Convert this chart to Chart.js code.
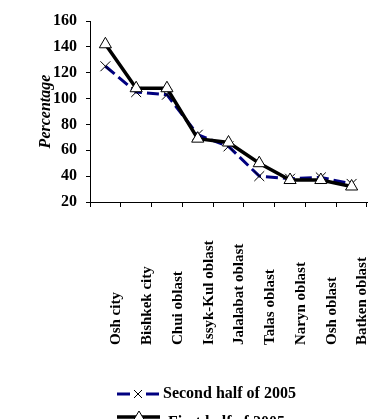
<!DOCTYPE html>
<html>
<head>
<meta charset="utf-8">
<script src="https://cdn.jsdelivr.net/npm/chart.js@4/dist/chart.umd.min.js"></script>
<style>
  html, body { margin: 0; padding: 0; background: #fff; }
  #wrap { width: 375px; height: 419px; position: relative; }
</style>
</head>
<body>
<div id="wrap"><canvas id="myChart" width="375" height="419"></canvas></div>
<script>
// regions on the x axis
const regions = ['Osh city', 'Bishkek city', 'Chui oblast', 'Issyk-Kul oblast', 'Jalalabat oblast',
    'Talas oblast', 'Naryn oblast', 'Osh oblast', 'Batken oblast'];

// series values (percent)
const secondHalf2005 = [125, 105, 103, 72, 63, 40, 38, 39, 34];
const firstHalf2005 = [142, 108, 108, 69, 66, 50, 37, 37, 32];

const seriesNames = ['Second half of 2005', 'First half of 2005.'];
const yTicks = [20, 40, 60, 80, 100, 120, 140, 160];

const serif = "'Liberation Serif', 'Times New Roman', serif";

// rotated category labels, bottom aligned like the original
const xLabelPlugin = {
    id: 'xLabels',
    afterDraw(chart) {
        const ctx = chart.ctx;
        const xs = chart.scales.x;
        ctx.save();
        ctx.fillStyle = '#000';
        ctx.font = 'bold 15px ' + serif;
        ctx.textAlign = 'left';
        ctx.textBaseline = 'middle';
        regions.forEach((name, i) => {
            const x = xs.getPixelForValue(i) + 11;
            ctx.save();
            ctx.translate(x, 345);
            ctx.rotate(-Math.PI / 2);
            ctx.fillText(name, 0, 0);
            ctx.restore();
        });
        ctx.restore();
    }
};

// legend stacked in two rows at the bottom
const legendPlugin = {
    id: 'customLegend',
    afterDraw(chart) {
        const ctx = chart.ctx;
        ctx.save();
        ctx.font = 'bold 16px ' + serif;
        ctx.textBaseline = 'middle';
        ctx.fillStyle = '#000';

        // row 1: dashed navy with x marker
        let y = 394;
        ctx.strokeStyle = '#000080';
        ctx.lineWidth = 3;
        ctx.beginPath();
        ctx.moveTo(117, y); ctx.lineTo(130, y);
        ctx.moveTo(146, y); ctx.lineTo(159, y);
        ctx.stroke();
        ctx.strokeStyle = '#000';
        ctx.lineWidth = 1;
        ctx.beginPath();
        ctx.moveTo(134, y - 4); ctx.lineTo(142, y + 4);
        ctx.moveTo(134, y + 4); ctx.lineTo(142, y - 4);
        ctx.stroke();
        ctx.fillText(seriesNames[0], 163, y);

        // row 2: solid black with triangle
        y = 417;
        ctx.strokeStyle = '#000';
        ctx.lineWidth = 3.5;
        ctx.beginPath();
        ctx.moveTo(117, y); ctx.lineTo(160, y);
        ctx.stroke();
        ctx.lineWidth = 1;
        ctx.fillStyle = '#fff';
        ctx.beginPath();
        ctx.moveTo(139, y - 6); ctx.lineTo(145, y + 4); ctx.lineTo(133, y + 4); ctx.closePath();
        ctx.fill(); ctx.stroke();
        ctx.fillStyle = '#000';
        ctx.fillText(seriesNames[1], 168, y + 6);
        ctx.restore();
    }
};

const ctx = document.getElementById('myChart').getContext('2d');
window.myChart = new Chart(ctx, {
    type: 'line',
    data: {
        labels: regions,
        datasets: [{
            label: seriesNames[0],
            data: secondHalf2005,
            borderColor: '#000080',
            borderWidth: 3,
            borderDash: [12, 5],
            pointStyle: 'crossRot',
            pointRadius: 7,
            pointBorderColor: '#000',
            pointBorderWidth: 1,
            pointBackgroundColor: '#000',
            order: 2
        }, {
            label: seriesNames[1],
            data: firstHalf2005,
            borderColor: '#000',
            borderWidth: 3.5,
            pointStyle: 'triangle',
            pointRadius: 7,
            pointBorderColor: '#000',
            pointBorderWidth: 1,
            pointBackgroundColor: '#fff',
            order: 1
        }]
    },
    options: {
        responsive: false,
        animation: false,
        layout: { padding: { top: 21, right: 1, bottom: 0, left: 0 } },
        plugins: { legend: { display: false }, tooltip: { enabled: false } },
        scales: {
            x: {
                offset: true,
                grid: { offset: true, drawOnChartArea: false, tickLength: 5, color: '#000' },
                border: { color: '#000', width: 1 },
                ticks: { display: false },
                afterFit(scale) { scale.height = 217; }
            },
            y: {
                min: yTicks[0],
                max: yTicks[yTicks.length - 1],
                grid: { drawOnChartArea: false, tickLength: 4, color: '#000' },
                border: { color: '#000', width: 1 },
                afterBuildTicks(scale) { scale.ticks = yTicks.map(v => ({ value: v })); },
                ticks: {
                    color: '#000',
                    padding: 9,
                    font: { family: serif, size: 16, weight: 'bold' }
                },
                title: {
                    display: true,
                    text: 'Percentage',
                    color: '#000',
                    padding: { top: 36, bottom: 0 },
                    font: { family: serif, size: 16, weight: 'bold', style: 'italic' }
                },
                afterFit(scale) { scale.width = 90; }
            }
        }
    },
    plugins: [xLabelPlugin, legendPlugin]
});
</script>
</body>
</html>
